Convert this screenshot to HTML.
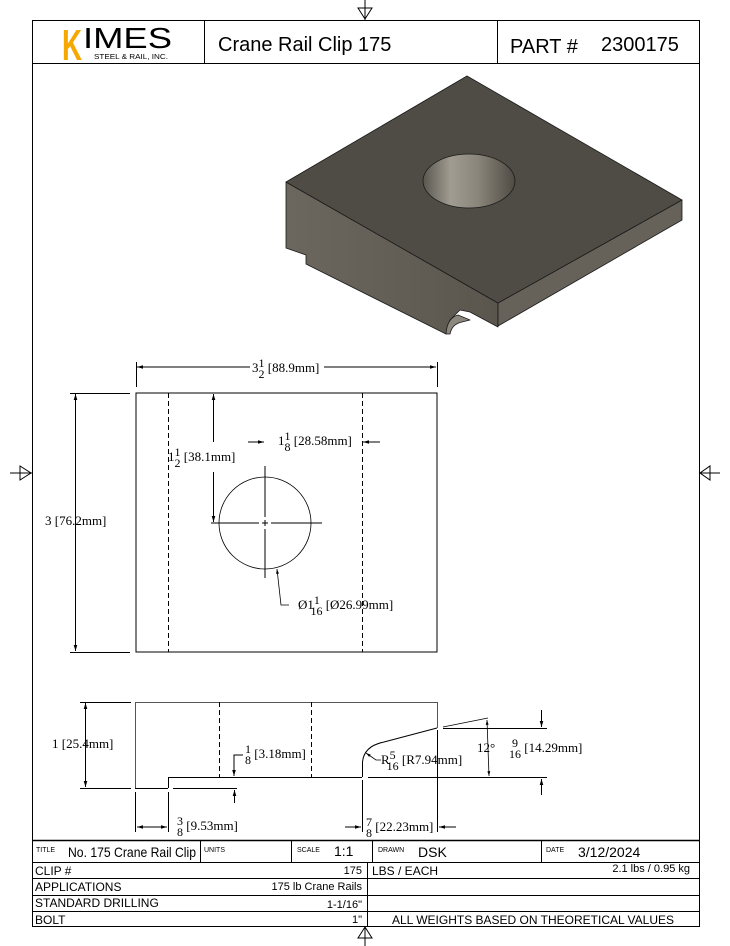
<!DOCTYPE html>
<html><head><meta charset="utf-8"><style>
body{margin:0;background:#fff;}
svg{display:block;}
text{font-family:"Liberation Serif",serif;font-size:13px;fill:#000;}
.s{font-family:"Liberation Sans",sans-serif;}
</style></head><body>
<svg width="730" height="946" viewBox="0 0 730 946" xmlns="http://www.w3.org/2000/svg">
<defs>
<marker id="a" viewBox="0 0 10 10" refX="10" refY="5" markerWidth="8" markerHeight="6" orient="auto-start-reverse"><path d="M0,2 L10,5 L0,8 z" fill="#000"/></marker>
<linearGradient id="hole" x1="0" x2="1"><stop offset="0" stop-color="#5a574f"/><stop offset="0.3" stop-color="#a09c92"/><stop offset="0.6" stop-color="#8a857a"/><stop offset="1" stop-color="#4e4b44"/></linearGradient>
<linearGradient id="lf" x1="0" x2="1"><stop offset="0" stop-color="#6c675e"/><stop offset="1" stop-color="#5a564e"/></linearGradient>
</defs>
<g stroke="#000" fill="none" stroke-width="1">
<rect x="32.5" y="20.5" width="667" height="906"/>
<line x1="32" y1="63.5" x2="699" y2="63.5"/>
<line x1="204.5" y1="20" x2="204.5" y2="63"/>
<line x1="497.5" y1="20" x2="497.5" y2="63"/>
<line x1="365" y1="0" x2="365" y2="20"/><path d="M358,8 L372,8 L365,19 z"/>
<line x1="365" y1="926" x2="365" y2="946"/><path d="M358,938 L372,938 L365,927 z"/>
<line x1="10" y1="473" x2="32" y2="473"/><path d="M20,466 L20,480 L31,473 z"/>
<line x1="699" y1="473" x2="720" y2="473"/><path d="M710,466 L710,480 L700,473 z"/>
<line x1="32" y1="840.5" x2="699" y2="840.5" stroke-width="1.5"/>
<line x1="32" y1="862.5" x2="699" y2="862.5"/>
<line x1="32" y1="878.5" x2="699" y2="878.5"/>
<line x1="32" y1="895.5" x2="699" y2="895.5"/>
<line x1="32" y1="911.5" x2="699" y2="911.5"/>
<line x1="200.5" y1="840" x2="200.5" y2="862"/>
<line x1="291.5" y1="840" x2="291.5" y2="862"/>
<line x1="372.5" y1="840" x2="372.5" y2="862"/>
<line x1="541.5" y1="840" x2="541.5" y2="862"/>
<line x1="367.5" y1="862" x2="367.5" y2="926"/>
</g>
<text x="62" y="60" class="s" style="font-size:44px;fill:#f5a800;font-weight:bold" textLength="20" lengthAdjust="spacingAndGlyphs">K</text>
<text x="83" y="48" class="s" style="font-size:29px" textLength="89" lengthAdjust="spacingAndGlyphs">IMES</text>
<text x="94" y="59" class="s" style="font-size:7px" textLength="74" lengthAdjust="spacingAndGlyphs">STEEL &amp; RAIL, INC.</text>
<text x="218" y="51" class="s" style="font-size:20px">Crane Rail Clip 175</text>
<text x="510" y="53" class="s" style="font-size:20px">PART #</text>
<text x="601" y="51" class="s" style="font-size:20px">2300175</text>
<text x="36" y="852" class="s" style="font-size:7px">TITLE</text>
<text x="68" y="857" class="s" style="font-size:14px" textLength="128" lengthAdjust="spacingAndGlyphs">No. 175 Crane Rail Clip</text>
<text x="204" y="852" class="s" style="font-size:7px">UNITS</text>
<text x="297" y="852" class="s" style="font-size:7px">SCALE</text>
<text x="334" y="856" class="s" style="font-size:14px">1:1</text>
<text x="378" y="852" class="s" style="font-size:7px">DRAWN</text>
<text x="418" y="857" class="s" style="font-size:14px">DSK</text>
<text x="546" y="852" class="s" style="font-size:7px">DATE</text>
<text x="578" y="857" class="s" style="font-size:14px">3/12/2024</text>
<text x="35" y="875" class="s" style="font-size:12px">CLIP #</text>
<text x="362" y="874" class="s" style="font-size:11px" text-anchor="end">175</text>
<text x="372" y="875" class="s" style="font-size:12px">LBS / EACH</text>
<text x="690" y="872" class="s" style="font-size:11px" text-anchor="end">2.1 lbs / 0.95 kg</text>
<text x="35" y="891" class="s" style="font-size:12px">APPLICATIONS</text>
<text x="362" y="890" class="s" style="font-size:11px" text-anchor="end">175 lb Crane Rails</text>
<text x="35" y="907" class="s" style="font-size:12px">STANDARD DRILLING</text>
<text x="362" y="908" class="s" style="font-size:11px" text-anchor="end">1-1/16"</text>
<text x="35" y="924" class="s" style="font-size:12px">BOLT</text>
<text x="362" y="923" class="s" style="font-size:11px" text-anchor="end">1"</text>
<text x="533" y="924" class="s" style="font-size:12px" text-anchor="middle">ALL WEIGHTS BASED ON THEORETICAL VALUES</text>
<g stroke="#1a1a1a" stroke-width="0.8" stroke-linejoin="round">
<path d="M286,182 L498,303 L498,327 L470,312 L460,310 L450,320 L446,334 L306,264 L306,255 L286,248 z" fill="url(#lf)"/>
<path d="M498,303 L682,200 L682,220 L498,326 z" fill="#66625a"/>
<path d="M467,76 L682,200 L498,303 L286,182 z" fill="#4f4c45"/>
<ellipse cx="469" cy="181" rx="46" ry="27" fill="url(#hole)"/>
<path d="M446,334 Q447,318 458,315 L470,320 L462,322 Q452,324 450,334 z" fill="#8d887d"/>
</g>
<g stroke="#000" fill="none" stroke-width="1">
<rect x="136" y="393" width="301" height="259"/>
<line x1="168.5" y1="393" x2="168.5" y2="652" stroke-dasharray="5,3"/>
<line x1="362.5" y1="393" x2="362.5" y2="652" stroke-dasharray="5,3"/>
<circle cx="265" cy="523" r="46" stroke-width="0.8"/>
<line x1="211" y1="523" x2="259" y2="523"/><line x1="262" y1="523" x2="268" y2="523"/><line x1="271" y1="523" x2="322" y2="523"/>
<line x1="265" y1="466" x2="265" y2="517"/><line x1="265" y1="520" x2="265" y2="526"/><line x1="265" y1="529" x2="265" y2="578"/>
<line x1="136.5" y1="362" x2="136.5" y2="387"/><line x1="437.5" y1="362" x2="437.5" y2="387"/>
<line x1="137" y1="367" x2="250" y2="367" marker-start="url(#a)"/><line x1="324" y1="367" x2="436" y2="367" marker-end="url(#a)"/>
<line x1="70" y1="393.5" x2="130" y2="393.5"/><line x1="70" y1="652.5" x2="130" y2="652.5"/>
<line x1="75.5" y1="394" x2="75.5" y2="651" marker-start="url(#a)" marker-end="url(#a)"/>
<line x1="213.5" y1="394" x2="213.5" y2="442" marker-start="url(#a)"/><line x1="213.5" y1="472" x2="213.5" y2="522" marker-end="url(#a)"/>
<line x1="248" y1="442" x2="264" y2="442" marker-end="url(#a)"/><line x1="380" y1="442" x2="363" y2="442" marker-end="url(#a)"/>
<polyline points="289,605 281,605 277,569" marker-end="url(#a)" stroke-width="0.8"/>
</g>
<text x="252" y="372">3<tspan font-size="12" dy="-5">1</tspan><tspan font-size="12" dx="-6" dy="11">2</tspan><tspan dy="-6"> [88.9mm]</tspan></text>
<text x="45" y="525">3 [76.2mm]</text>
<text x="168" y="461">1<tspan font-size="12" dy="-5">1</tspan><tspan font-size="12" dx="-6" dy="11">2</tspan><tspan dy="-6"> [38.1mm]</tspan></text>
<text x="278" y="445">1<tspan font-size="12" dy="-5">1</tspan><tspan font-size="12" dx="-6" dy="11">8</tspan><tspan dy="-6"> [28.58mm]</tspan></text>
<text x="298" y="609">Ø1<tspan font-size="12" dy="-5">1</tspan><tspan font-size="12" dx="-9" dy="11">16</tspan><tspan dy="-6"> [Ø26.99mm]</tspan></text>
<g stroke="#000" fill="none" stroke-width="1">
<path d="M135.5,788 L135.5,702.5 L437.5,702.5 L437.5,728" stroke="#555"/>
<path d="M135,788.5 L168,788.5 M168.5,788 L168.5,777.5 L362,777.5 M362.5,777 L362.5,762 Q364,746 384,742 L437,728"/>
<line x1="219.5" y1="702" x2="219.5" y2="777" stroke-dasharray="5,3"/>
<line x1="311.5" y1="702" x2="311.5" y2="777" stroke-dasharray="5,3"/>
<line x1="368" y1="777.5" x2="547" y2="777.5"/>
<line x1="443" y1="728.5" x2="547" y2="728.5"/>
<line x1="443" y1="727" x2="488" y2="718" stroke-width="0.7"/>
<line x1="487" y1="720" x2="489" y2="776" marker-start="url(#a)" marker-end="url(#a)" stroke-width="0.8"/>
<line x1="541.5" y1="710" x2="541.5" y2="727" marker-end="url(#a)"/>
<line x1="541.5" y1="795" x2="541.5" y2="779" marker-end="url(#a)"/>
<line x1="80" y1="702.5" x2="131" y2="702.5"/><line x1="80" y1="788.5" x2="131" y2="788.5"/>
<line x1="85.5" y1="703" x2="85.5" y2="787" marker-start="url(#a)" marker-end="url(#a)"/>
<line x1="173" y1="788.5" x2="237" y2="788.5"/>
<polyline points="243,755 234,755 234,776" marker-end="url(#a)"/>
<line x1="234.5" y1="803" x2="234.5" y2="790" marker-end="url(#a)"/>
<line x1="135.5" y1="792" x2="135.5" y2="832"/><line x1="168.5" y1="792" x2="168.5" y2="832"/>
<line x1="137" y1="827" x2="167" y2="827" marker-start="url(#a)" marker-end="url(#a)"/>
<line x1="362.5" y1="780" x2="362.5" y2="832"/><line x1="437.5" y1="730" x2="437.5" y2="832"/>
<line x1="345" y1="827" x2="361" y2="827" marker-end="url(#a)"/><line x1="456" y1="827" x2="439" y2="827" marker-end="url(#a)"/>
<polyline points="381,760 376,760 366,753" marker-end="url(#a)" stroke-width="0.8"/>
</g>
<text x="52" y="748">1 [25.4mm]</text>
<text x="245" y="758"><tspan font-size="12" dy="-5">1</tspan><tspan font-size="12" dx="-6" dy="11">8</tspan><tspan dy="-6"> [3.18mm]</tspan></text>
<text x="381" y="764">R<tspan font-size="12" dy="-5">5</tspan><tspan font-size="12" dx="-9" dy="11">16</tspan><tspan dy="-6"> [R7.94mm]</tspan></text>
<text x="477" y="752">12°</text>
<text x="506" y="752"><tspan font-size="12" dx="3" dy="-5">9</tspan><tspan font-size="12" dx="-9" dy="11">16</tspan><tspan dy="-6"> [14.29mm]</tspan></text>
<text x="177" y="830"><tspan font-size="12" dy="-5">3</tspan><tspan font-size="12" dx="-6" dy="11">8</tspan><tspan dy="-6"> [9.53mm]</tspan></text>
<text x="366" y="831"><tspan font-size="12" dy="-5">7</tspan><tspan font-size="12" dx="-6" dy="11">8</tspan><tspan dy="-6"> [22.23mm]</tspan></text>
</svg>
</body></html>
